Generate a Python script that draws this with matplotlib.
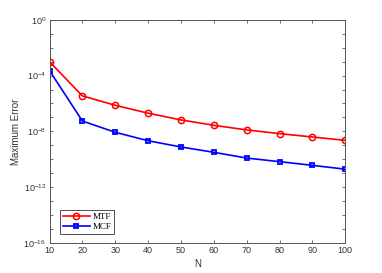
import numpy as np
import matplotlib
matplotlib.use('Agg')
import matplotlib.pyplot as plt
from matplotlib.ticker import LogLocator, FixedLocator, NullFormatter

N = [10, 20, 30, 40, 50, 60, 70, 80, 90, 100]
mtf_err = [1.0e-3, 3.5e-6, 7.4e-7, 2.0e-7, 6.6e-8, 2.7e-8, 1.26e-8, 6.8e-9, 3.9e-9, 2.25e-9]
mcf_err = [2.3e-4, 5.5e-8, 8.5e-9, 2.1e-9, 7.5e-10, 3.1e-10, 1.2e-10, 6.6e-11, 3.6e-11, 1.9e-11]
xticks = [10, 20, 30, 40, 50, 60, 70, 80, 90, 100]
yticks = [1e-16, 1e-12, 1e-8, 1e-4, 1e0]

plt.rcParams['font.family'] = ['Liberation Sans', 'DejaVu Sans']

fig = plt.figure(figsize=(3.82, 2.73), dpi=100)
ax = fig.add_axes([0.1296, 0.111, 0.7744, 0.816])

ax.plot(N, mtf_err, color='red', lw=1.2, marker='o', ms=4.5, mfc='none', mew=1.1, label='MTF')
ax.plot(N, mcf_err, color='blue', lw=1.2, marker='s', ms=3.4, mfc='none', mew=1.3, label='MCF')

ax.set_yscale('log')
ax.set_xlim(10, 100)
ax.set_ylim(1e-16, 1e0)
ax.set_xticks(xticks)
ax.yaxis.set_major_locator(FixedLocator(yticks))
ax.yaxis.set_minor_locator(FixedLocator([10.0**e for e in range(-16, 1)]))
ax.yaxis.set_minor_formatter(NullFormatter())

gray = '#555555'
for s in ax.spines.values():
    s.set_color(gray)
    s.set_linewidth(0.7)
ax.tick_params(which='both', direction='in', top=True, right=True, length=2.5,
               width=0.6, color=gray, labelsize=6.5, labelcolor='#333333', pad=2.5)

ax.set_xlabel('N', fontsize=7, color='#333333', labelpad=3)
ax.set_ylabel('Maximum Error', fontsize=7, color='#333333', labelpad=2)

leg = ax.legend(loc='lower left', prop={'family': 'Liberation Serif', 'size': 6.5},
                fancybox=False, edgecolor='#333333', framealpha=1,
                borderpad=0.3, labelspacing=0.15, handlelength=3.0, handletextpad=0.3,
                bbox_to_anchor=(0.02, 0.02))
leg.get_frame().set_linewidth(0.6)

fig.savefig('out.png', dpi=100)
